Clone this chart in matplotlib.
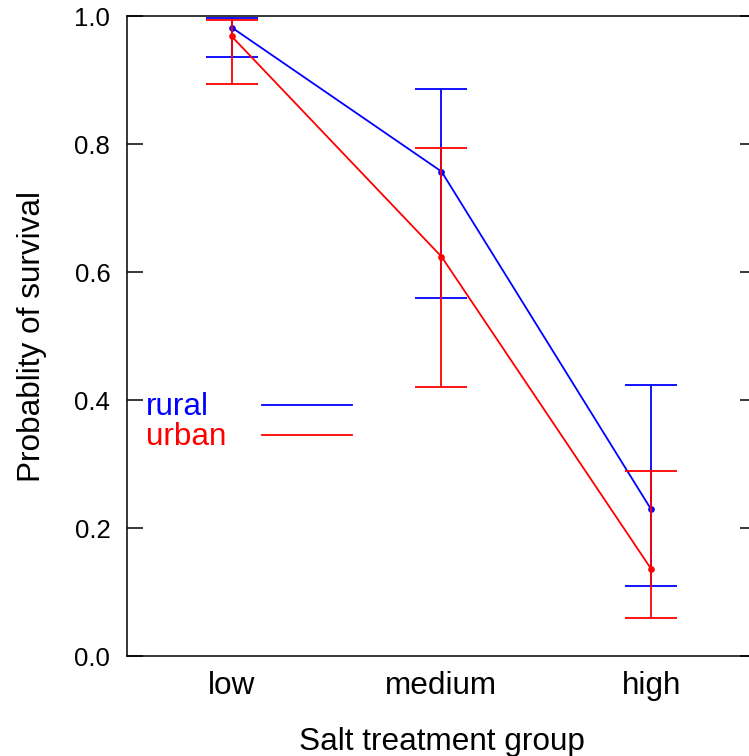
import matplotlib
matplotlib.use("Agg")
import matplotlib.pyplot as plt
import numpy as np

plt.rcParams["font.family"] = ["Liberation Sans", "DejaVu Sans"]

# survival estimates with confidence limits per salt treatment group
groups = ["low", "medium", "high"]
rural_p = [0.982, 0.757, 0.229]
rural_lo = [0.936, 0.560, 0.109]
rural_hi = [0.997, 0.886, 0.423]
urban_p = [0.968, 0.624, 0.136]
urban_lo = [0.894, 0.421, 0.059]
urban_hi = [0.994, 0.794, 0.289]

W, H = 749, 756
fig = plt.figure(figsize=(W / 100, H / 100), dpi=100)
fig.patch.set_facecolor("white")
# plot box runs a little past the right edge of the canvas
ax = fig.add_axes([127 / W, (H - 656) / H, (756 - 127) / W, 640 / H])

x = np.arange(1, len(groups) + 1)
series = [(rural_p, rural_lo, rural_hi, "#0000ff", "rural"),
          (urban_p, urban_lo, urban_hi, "#ff0000", "urban")]

for p, lo, hi, col, lab in series:
    p, lo, hi = map(np.array, (p, lo, hi))
    ax.errorbar(x, p, yerr=[p - lo, hi - p], fmt="none", ecolor=col,
                elinewidth=1.3, capsize=18.7, capthick=1.3, clip_on=False)
    ax.plot(x, p, color=col, linewidth=1.3, marker="o", markersize=3.8)

ax.set_xlim(0.5, 3.5)
ax.set_ylim(0, 1)
ax.set_xticks(x)
ax.set_xticklabels(groups, fontsize=22.7)
ax.set_yticks([0, 0.2, 0.4, 0.6, 0.8, 1.0])
ax.set_yticklabels(["0.0", "0.2", "0.4", "0.6", "0.8", "1.0"], fontsize=18.5)
ax.tick_params(axis="x", length=0, pad=11)
ax.tick_params(axis="y", direction="in", length=11.5, width=1.1,
               left=True, right=True, pad=12)
for sp in ax.spines.values():
    sp.set_linewidth(1.1)

ax.set_xlabel("Salt treatment group", fontsize=22.7, labelpad=18.5)
ax.set_ylabel("Probablity of survival", fontsize=22.7, labelpad=20)

# key in the style of base R: coloured label, then a line sample
for i, (_, _, _, col, lab) in enumerate(series):
    yk = 0.389 - i * 0.047
    ax.text(0.030, yk, lab, color=col, fontsize=22.7, ha="left",
            va="center", transform=ax.transAxes)
    ax.plot([0.215, 0.358], [yk + 0.003, yk + 0.003], color=col,
            linewidth=1.3, transform=ax.transAxes)

fig.savefig("out.png", dpi=100, facecolor=fig.get_facecolor())
